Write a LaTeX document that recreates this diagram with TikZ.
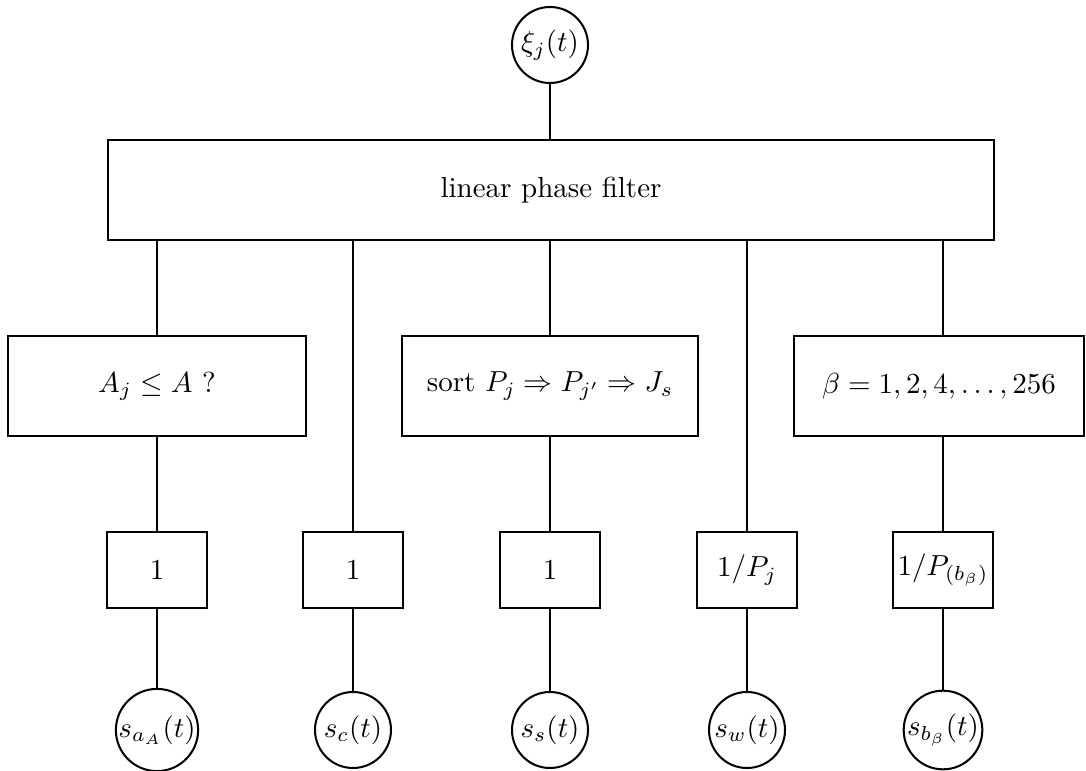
\documentclass[tikz,border=0pt]{standalone}
\usepackage{amsmath}
\begin{document}
\def\u{0.345pt}
\begin{tikzpicture}[x=\u,y=-\u,
  every node/.style={inner sep=0pt, align=center},
  line width=0.7pt,
  wire/.style={draw},
  sig/.style={draw, circle, minimum size={76*\u}},
  wide/.style={draw, rectangle, minimum height={100*\u}},
  gain/.style={draw, rectangle, minimum width={100*\u}, minimum height={76*\u}}]
\useasboundingbox (0,0) rectangle (1086,771);

% input signal and filter bank
\node[sig] (xi) at (550,45) {$\xi_j(t)$};
\node[wide, minimum width={886*\u}] (filt) at (551,190) {linear phase filter};

% selection stages
\node[wide, minimum width={298*\u}] (selA) at (157,386) {$A_j \le A$ ?};
\node[wide, minimum width={296*\u}] (selS) at (550,386) {sort $P_j \Rightarrow P_{j'} \Rightarrow J_s$};
\node[wide, minimum width={290*\u}] (selB) at (939,386) {$\beta = 1, 2, 4, \ldots, 256$};

% weights
\node[gain] (gA) at (157,570) {$1$};
\node[gain] (gC) at (353,570) {$1$};
\node[gain] (gS) at (550,570) {$1$};
\node[gain] (gW) at (747,570) {$1/P_j$};
\node[gain] (gB) at (943,570) {$1/P_{(b_\beta)}$};

% output signals
\node[sig] (sA) at (157,730) {$s_{a_A}(t)$};
\node[sig] (sC) at (353,730) {$s_c(t)$};
\node[sig] (sS) at (550,730) {$s_s(t)$};
\node[sig] (sW) at (747,730) {$s_w(t)$};
\node[sig] (sB) at (943,730) {$s_{b_\beta}(t)$};

% connections
\draw[wire] (xi.south) -- (xi.south |- filt.north);
\draw[wire] (gA.north |- filt.south) -- (selA.north -| gA.north);
\draw[wire] (gS.north |- filt.south) -- (selS.north -| gS.north);
\draw[wire] (gB.north |- filt.south) -- (selB.north -| gB.north);
\draw[wire] (gC.north |- filt.south) -- (gC.north);
\draw[wire] (gW.north |- filt.south) -- (gW.north);
\draw[wire] (selA.south -| gA.north) -- (gA.north);
\draw[wire] (selS.south -| gS.north) -- (gS.north);
\draw[wire] (selB.south -| gB.north) -- (gB.north);
\foreach \g/\s in {gA/sA, gC/sC, gS/sS, gW/sW, gB/sB}
  \draw[wire] (\g.south) -- (\s.north);
\end{tikzpicture}
\end{document}
